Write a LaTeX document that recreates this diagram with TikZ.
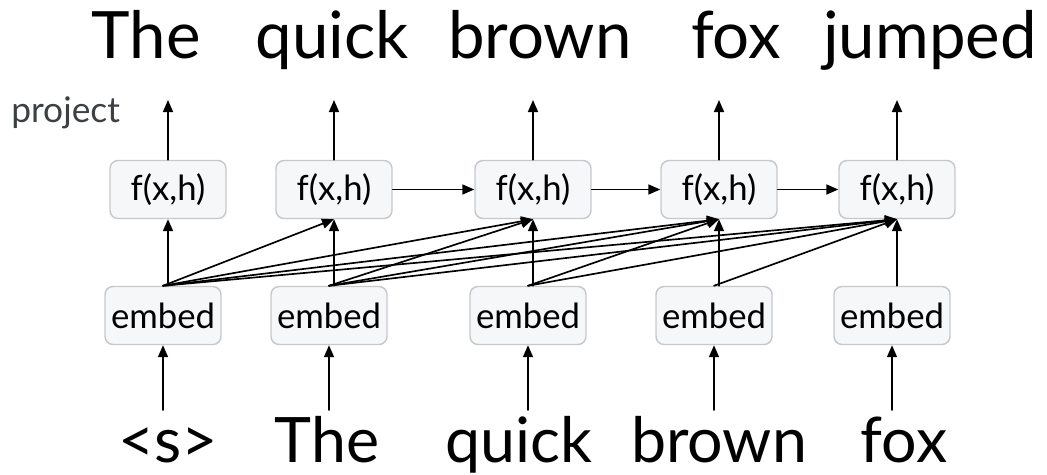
\documentclass[tikz,border=0pt]{standalone}
\usepackage{fontspec}
\setmainfont{Lato}
\usetikzlibrary{arrows.meta}

\definecolor{boxline}{HTML}{C6C9CC}
\definecolor{boxfill}{HTML}{F5F7F9}
\definecolor{labelgray}{HTML}{3C4043}

\tikzset{
  cell/.style={draw=boxline, fill=boxfill, line width=1.1pt, rounded corners=6pt,
    minimum width=87pt, minimum height=43.5pt, inner sep=0pt,
    font=\fontsize{26}{26}\selectfont},
  word/.style={anchor=base, inner sep=0pt, font=\fontsize{49}{49}\selectfont},
  token/.style={anchor=base, inner sep=0pt, font=\fontsize{47}{47}\selectfont},
  link/.style={->, line width=1.25pt},
}

\begin{document}
\begin{tikzpicture}[x=0.75pt, y=-0.75pt, line join=round, line cap=round,
  >={Stealth[length=9pt, width=7.5pt, inset=0pt]}]
\useasboundingbox (0,0) rectangle (1047,475);

\node[cell] (F1) at (168,189.5) {f(x,h)};
\node[cell] (F2) at (334,189.5) {f(x,h)};
\node[cell] (F3) at (533,189.5) {f(x,h)};
\node[cell] (F4) at (719,189.5) {f(x,h)};
\node[cell] (F5) at (897,189.5) {f(x,h)};

\node[cell] (E1) at (163,315.5) {embed};
\node[cell] (E2) at (329,315.5) {embed};
\node[cell] (E3) at (528,315.5) {embed};
\node[cell] (E4) at (714,315.5) {embed};
\node[cell] (E5) at (892,315.5) {embed};

\node[word] (W1) at (146,58) {The};
\node[word] (W2) at (332,58) {quick};
\node[word] (W3) at (540,58) {brown};
\node[word] (W4) at (736,58) {fox};
\node[word] (W5) at (930,58) {jumped};

\node[token] (S1) at (168,462) {<s>};
\node[token] (S2) at (327,462) {The};
\node[token] (S3) at (519,462) {quick};
\node[token] (S4) at (719,462) {brown};
\node[token] (S5) at (904,462) {fox};

\node[anchor=base west, inner sep=0pt, text=labelgray,
  font=\fontsize{26.5}{26.5}\selectfont] (P) at (11,122) {project};

\coordinate (T1) at (168,100);
\coordinate (T2) at (334,100);
\coordinate (T3) at (533,100);
\coordinate (T4) at (719,100);
\coordinate (T5) at (897,100);

\coordinate (B1) at (163,410);
\coordinate (B2) at (329,410);
\coordinate (B3) at (528,410);
\coordinate (B4) at (714,410);
\coordinate (B5) at (892,410);

% up to the output words
\draw[link] (F1) -- (T1);
\draw[link] (F2) -- (T2);
\draw[link] (F3) -- (T3);
\draw[link] (F4) -- (T4);
\draw[link] (F5) -- (T5);

% input words into embed
\draw[link] (B1) -- (E1);
\draw[link] (B2) -- (E2);
\draw[link] (B3) -- (E3);
\draw[link] (B4) -- (E4);
\draw[link] (B5) -- (E5);

% state passed along
\draw[link] (F2) -- (F3);
\draw[link] (F3) -- (F4);
\draw[link] (F4) -- (F5);

% embed straight up
\draw[link] (E1.north -| F1.south) -- (F1.south);
\draw[link] (E2.north -| F2.south) -- (F2.south);
\draw[link] (E3.north -| F3.south) -- (F3.south);
\draw[link] (E4.north -| F4.south) -- (F4.south);
\draw[link] (E5.north -| F5.south) -- (F5.south);

% embed to later cells
\draw[link] (E1.north) -- (F2.south);
\draw[link] (E1.north) -- (F3.south);
\draw[link] (E1.north) -- (F4.south);
\draw[link] (E1.north) -- (F5.south);
\draw[link] (E2.north) -- (F3.south);
\draw[link] (E2.north) -- (F4.south);
\draw[link] (E2.north) -- (F5.south);
\draw[link] (E3.north) -- (F4.south);
\draw[link] (E3.north) -- (F5.south);
\draw[link] (E4.north) -- (F5.south);
\end{tikzpicture}
\end{document}
